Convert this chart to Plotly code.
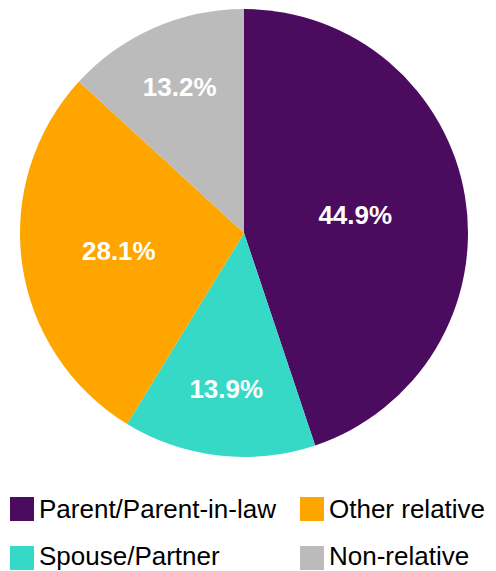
import plotly.graph_objects as go

# Data
labels = ["Parent/Parent-in-law", "Spouse/Partner", "Other relative", "Non-relative"]
values = [44.9, 13.9, 28.1, 13.2]
colors = ["#4b0c5f", "#36d9c5", "#ffa500", "#bbbbbb"]
legend_order = ["Parent/Parent-in-law", "Other relative", "Spouse/Partner", "Non-relative"]

W, H = 496, 571
FONT = "Liberation Sans, Arial, sans-serif"

# pie geometry (pixels)
cx, cy, r = 244, 233, 224

fig = go.Figure()
fig.add_trace(go.Pie(
    labels=labels,
    values=values,
    sort=False,
    direction="clockwise",
    rotation=0,
    marker=dict(colors=colors, line=dict(width=0)),
    texttemplate="%{value:.1f}%",
    textposition="inside",
    insidetextorientation="horizontal",
    textfont=dict(family=FONT, size=26, color="white", weight="bold"),
    hoverinfo="label+percent",
    showlegend=False,
    domain=dict(x=[(cx - r) / W, (cx + r) / W], y=[(H - cy - r) / H, (H - cy + r) / H]),
))

# Manual legend (two columns, column-major order)
shapes = []
annotations = []
pos = [(10, 509, 509), (300, 509, 509), (10, 558, 556), (300, 558, 556)]
for name, (x0, yc, yt) in zip(legend_order, pos):
    col = colors[labels.index(name)]
    shapes.append(dict(type="rect", xref="paper", yref="paper",
                       x0=x0 / W, x1=(x0 + 24) / W,
                       y0=(H - yc - 12) / H, y1=(H - yc + 12) / H,
                       fillcolor=col, line=dict(width=0)))
    annotations.append(dict(text=name, xref="paper", yref="paper",
                            x=(x0 + 27) / W, y=(H - yt) / H,
                            xanchor="left", yanchor="middle", showarrow=False,
                            font=dict(family=FONT, size=26, color="black")))

fig.update_layout(
    width=W, height=H,
    margin=dict(l=0, r=0, t=0, b=0),
    paper_bgcolor="white", plot_bgcolor="white",
    shapes=shapes, annotations=annotations,
    font=dict(family=FONT),
)

fig.write_html(
    "out.html",
    config={"displayModeBar": False},
    post_script="document.body.style.margin='0';document.body.style.overflow='hidden';",
)
